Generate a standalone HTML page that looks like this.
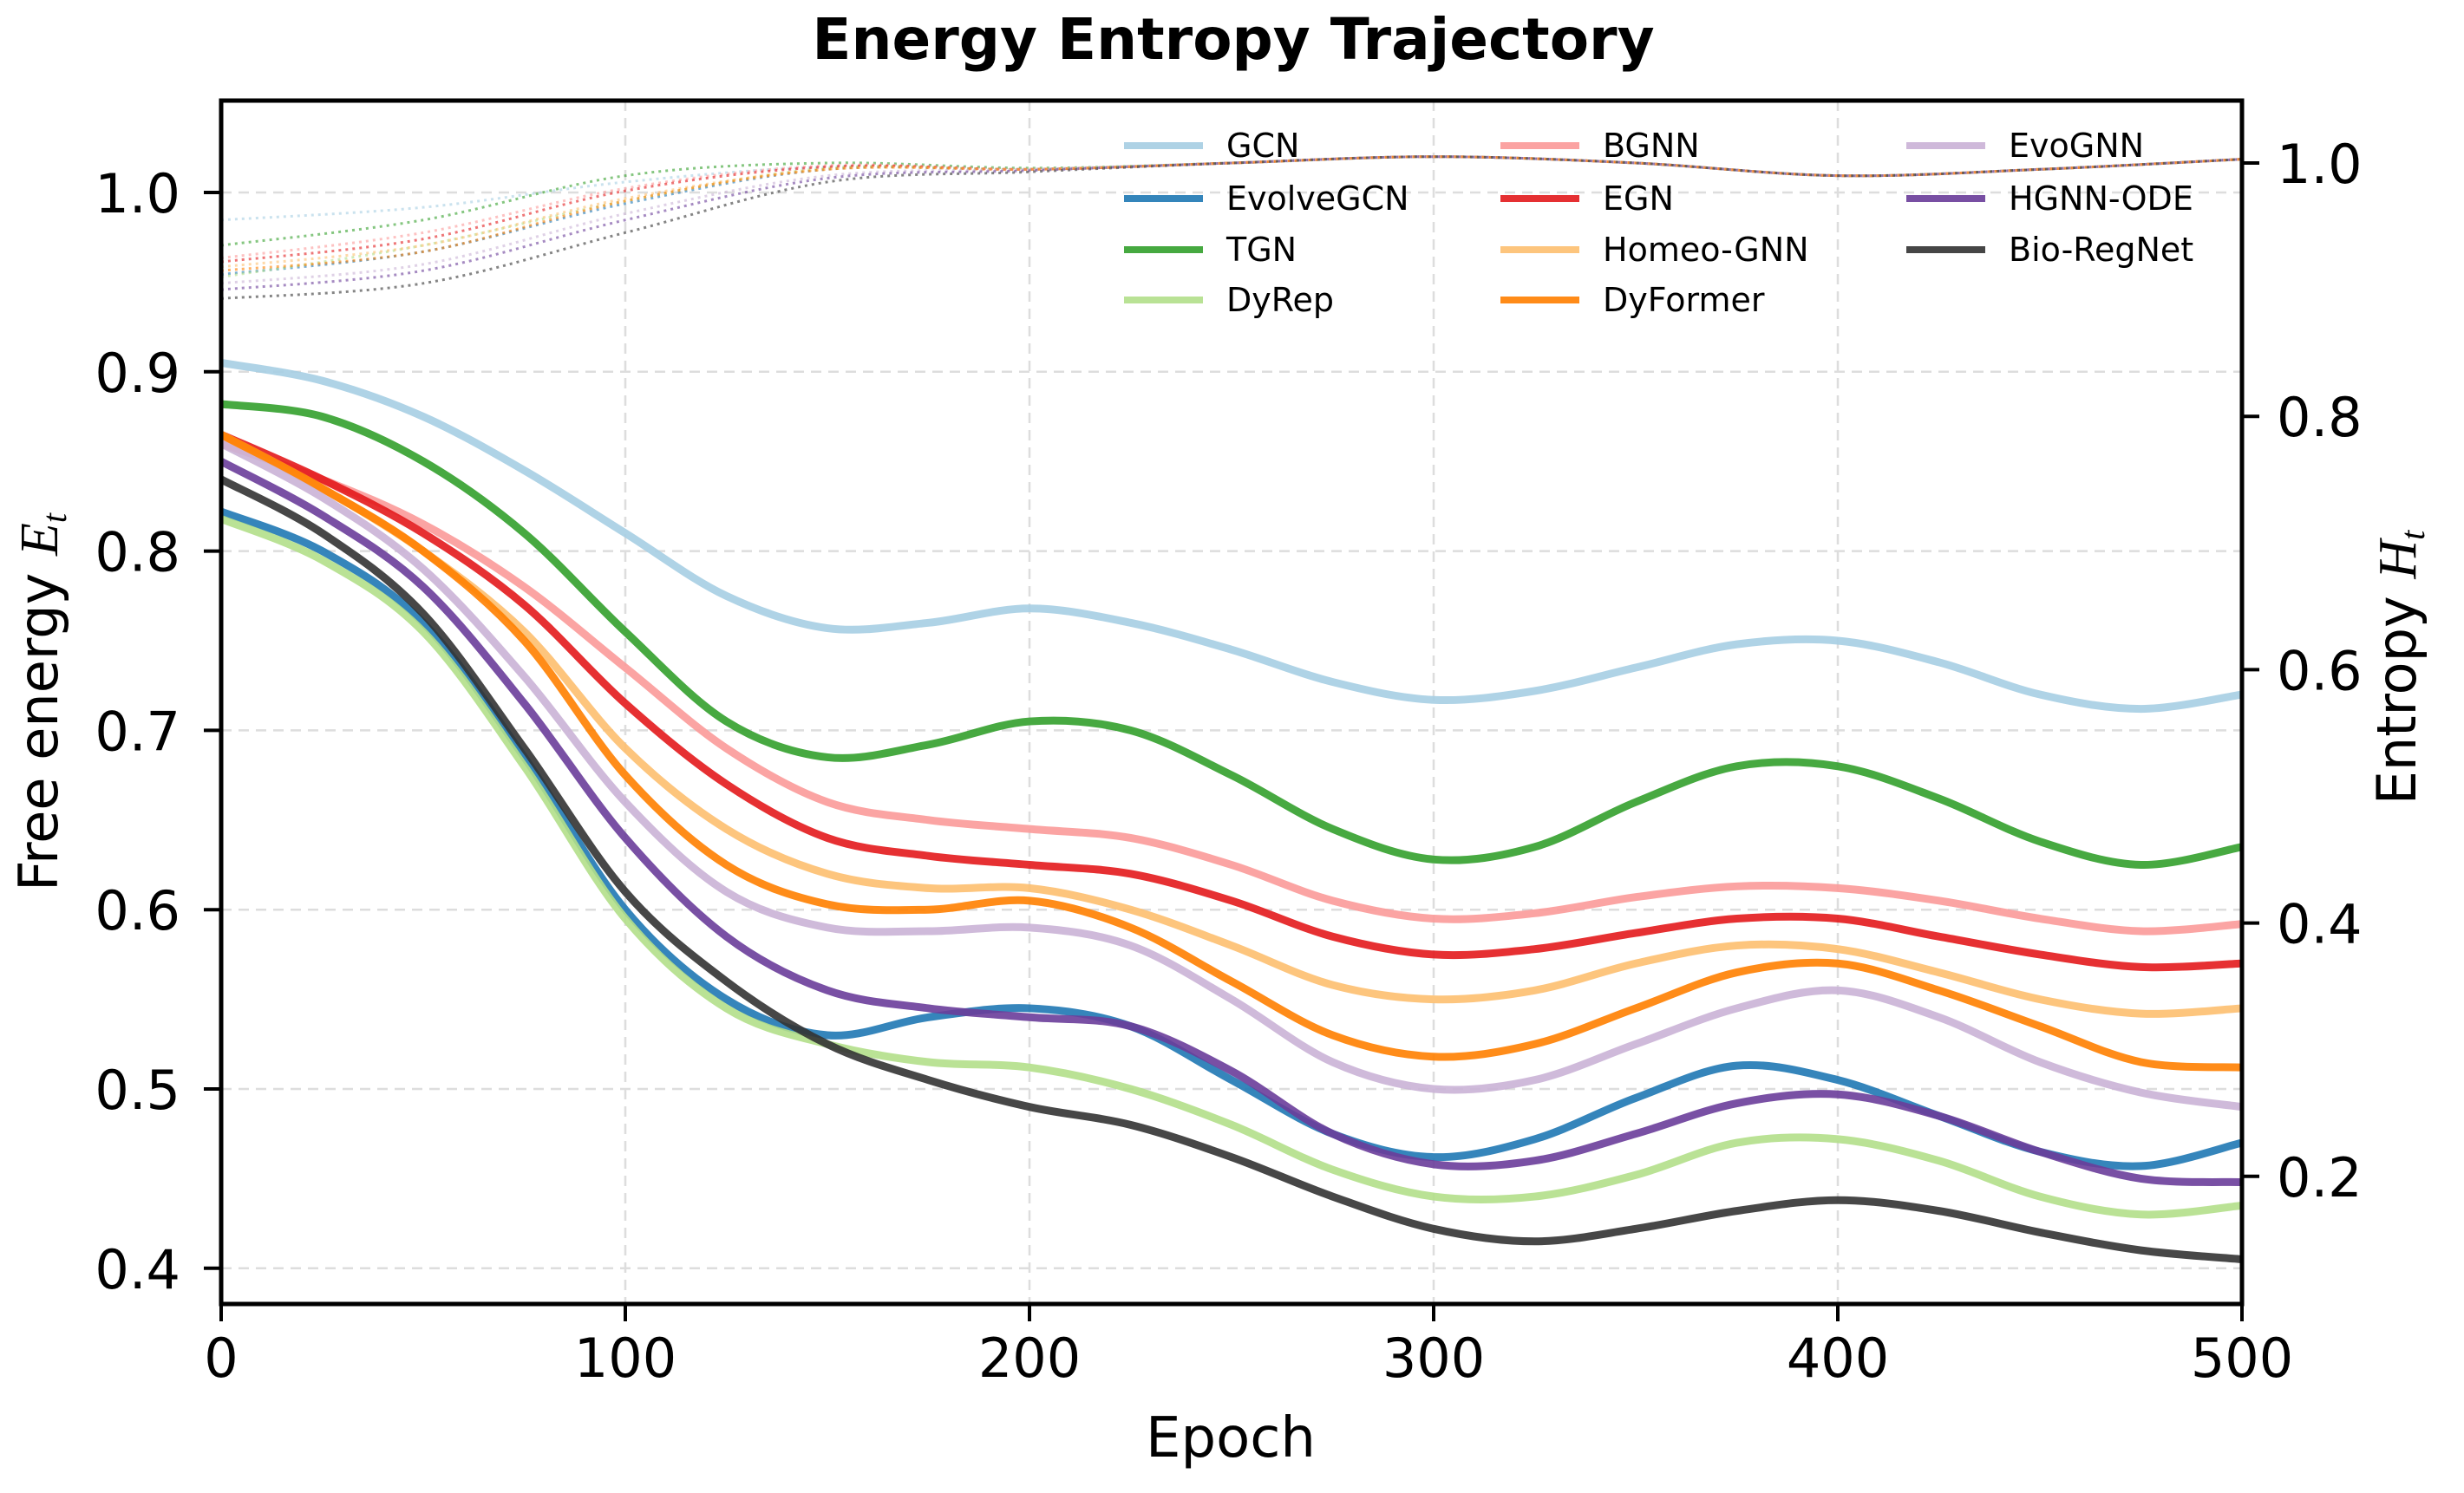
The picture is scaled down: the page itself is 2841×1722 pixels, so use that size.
<!DOCTYPE html>
<html><head><meta charset="utf-8"><style>
body{margin:0;background:#fff}
svg{display:block;font-family:"DejaVu Sans","Liberation Sans",sans-serif}
</style></head><body>
<svg id="chart" width="2841" height="1722" viewBox="0 0 2841 1722">
<text x="1422" y="68" text-anchor="middle" font-size="66" font-weight="bold">Energy Entropy Trajectory</text>
<g id="grid"></g><g id="ent"></g><g id="lines"></g>
<rect x="255" y="116" width="2330" height="1388" fill="none" stroke="#000" stroke-width="5"/>
<g id="axes"></g>
<text x="1419" y="1680" text-anchor="middle" font-size="64">Epoch</text>
<text transform="translate(66,810) rotate(-90)" text-anchor="middle" font-size="62">Free energy <tspan font-style="italic" font-family="Liberation Serif,serif">E<tspan font-size="40" dy="10">t</tspan></tspan></text>
<text transform="translate(2785,770) rotate(-90)" text-anchor="middle" font-size="62">Entropy <tspan font-style="italic" font-family="Liberation Serif,serif">H<tspan font-size="40" dy="10">t</tspan></tspan></text>
<g id="legend"></g>
</svg>
<script>
const epochs=[0,25,50,75,100,125,150,175,200,225,250,275,300,325,350,375,400,425,450,475,500];
const entEpochs=[0,50,100,150,200,250,300,350,400,450,500];
const names=["GCN","EvolveGCN","TGN","DyRep","BGNN","EGN","Homeo-GNN","DyFormer","EvoGNN","HGNN-ODE","Bio-RegNet"];
const colors=["#a6cee3","#1f78b4","#33a02c","#b2df8a","#fb9a99","#e31a1c","#fdbf6f","#ff7f00","#cab2d6","#6a3d9a","#333333"];
const eGCN=[0.905,0.895,0.875,0.845,0.81,0.775,0.757,0.76,0.768,0.76,0.745,0.727,0.717,0.722,0.735,0.748,0.75,0.738,0.72,0.712,0.72];
const eEvolveGCN=[0.822,0.8,0.76,0.685,0.6,0.55,0.53,0.54,0.545,0.535,0.505,0.475,0.462,0.472,0.495,0.513,0.505,0.485,0.465,0.457,0.47];
const eTGN=[0.882,0.875,0.85,0.81,0.755,0.705,0.685,0.692,0.705,0.7,0.675,0.645,0.628,0.635,0.66,0.68,0.68,0.662,0.638,0.625,0.635];
const eDyRep=[0.818,0.795,0.755,0.68,0.595,0.545,0.525,0.515,0.512,0.5,0.48,0.455,0.44,0.44,0.452,0.47,0.472,0.46,0.44,0.43,0.435];
const eBGNN=[0.86,0.84,0.815,0.78,0.735,0.69,0.66,0.65,0.645,0.64,0.625,0.605,0.595,0.598,0.607,0.613,0.612,0.605,0.595,0.588,0.592];
const eEGN=[0.865,0.84,0.81,0.77,0.715,0.67,0.64,0.63,0.625,0.62,0.605,0.585,0.575,0.578,0.587,0.595,0.595,0.585,0.575,0.568,0.57];
const eHomeo=[0.865,0.835,0.8,0.755,0.69,0.645,0.62,0.612,0.612,0.6,0.58,0.558,0.55,0.555,0.57,0.58,0.578,0.565,0.55,0.542,0.545];
const eDyFormer=[0.865,0.835,0.8,0.75,0.675,0.625,0.603,0.6,0.605,0.59,0.56,0.53,0.518,0.525,0.545,0.565,0.57,0.555,0.535,0.515,0.512];
const eEvoGNN=[0.86,0.83,0.79,0.73,0.66,0.61,0.59,0.588,0.59,0.58,0.55,0.515,0.5,0.505,0.525,0.545,0.555,0.54,0.515,0.498,0.49];
const eHGNN=[0.85,0.82,0.78,0.715,0.64,0.585,0.555,0.545,0.54,0.535,0.51,0.475,0.458,0.46,0.475,0.492,0.497,0.485,0.465,0.45,0.448];
const eBio=[0.84,0.81,0.765,0.69,0.61,0.56,0.525,0.505,0.49,0.48,0.462,0.44,0.422,0.415,0.422,0.432,0.438,0.432,0.42,0.41,0.405];
const hGCN=[0.955,0.965,0.985,0.997,0.995,1.0,1.005,1.0,0.99,0.995,1.003];
const hEvolveGCN=[0.912,0.93,0.968,0.995,0.995,1.0,1.005,1.0,0.99,0.995,1.003];
const hTGN=[0.935,0.955,0.99,1.0,0.996,1.0,1.005,1.0,0.99,0.995,1.003];
const hDyRep=[0.91,0.935,0.97,0.996,0.995,1.0,1.005,1.0,0.99,0.995,1.003];
const hBGNN=[0.925,0.945,0.98,0.998,0.995,1.0,1.005,1.0,0.99,0.995,1.003];
const hEGN=[0.922,0.94,0.978,0.997,0.995,1.0,1.005,1.0,0.99,0.995,1.003];
const hHomeo=[0.918,0.935,0.972,0.995,0.995,1.0,1.005,1.0,0.99,0.995,1.003];
const hDyFormer=[0.915,0.93,0.97,0.995,0.995,1.0,1.005,1.0,0.99,0.995,1.003];
const hEvoGNN=[0.905,0.92,0.96,0.99,0.995,1.0,1.005,1.0,0.99,0.995,1.003];
const hHGNN=[0.9,0.915,0.955,0.988,0.994,1.0,1.005,1.0,0.99,0.995,1.003];
const hBio=[0.893,0.905,0.945,0.985,0.993,1.0,1.005,1.0,0.99,0.995,1.003];
const xTicks=[0,100,200,300,400,500];
const yTicks=[0.4,0.5,0.6,0.7,0.8,0.9,1.0];
const y2Ticks=[0.2,0.4,0.6,0.8,1.0];

const energy=[eGCN,eEvolveGCN,eTGN,eDyRep,eBGNN,eEGN,eHomeo,eDyFormer,eEvoGNN,eHGNN,eBio];
const entropy=[hGCN,hEvolveGCN,hTGN,hDyRep,hBGNN,hEGN,hHomeo,hDyFormer,hEvoGNN,hHGNN,hBio];
const L=255,R=2585,T=116,B=1504;
const X=v=>L+v/500*(R-L);
const Y=v=>222+(1.0-v)*2068;
const Y2=v=>188+(1.0-v)*1461;
const NS="http://www.w3.org/2000/svg";
function mk(tag,attrs,parent){const e=document.createElementNS(NS,tag);for(const k in attrs)e.setAttribute(k,attrs[k]);parent.appendChild(e);return e;}
function smooth(pts){let d=`M${pts[0][0]},${pts[0][1]}`;for(let i=0;i<pts.length-1;i++){const p0=pts[i-1]||pts[i],p1=pts[i],p2=pts[i+1],p3=pts[i+2]||p2;
d+=` C${p1[0]+(p2[0]-p0[0])/6},${p1[1]+(p2[1]-p0[1])/6} ${p2[0]-(p3[0]-p1[0])/6},${p2[1]-(p3[1]-p1[1])/6} ${p2[0]},${p2[1]}`;}return d;}
const grid=document.getElementById('grid'),axes=document.getElementById('axes');
xTicks.forEach(t=>{
 const g=mk('line',{x1:X(t),x2:X(t),y1:T,y2:B,stroke:'#ddd','stroke-width':2.5,'stroke-dasharray':'12 8'},grid);
 
 const tk=mk('line',{x1:X(t),x2:X(t),y1:B,y2:B+20,stroke:'#000','stroke-width':4},axes);
 
 const tx=mk('text',{x:X(t),y:1588,'text-anchor':'middle','font-size':62},axes);tx.textContent=t;
 
});
yTicks.forEach(t=>{
 const g=mk('line',{x1:L,x2:R,y1:Y(t),y2:Y(t),stroke:'#ddd','stroke-width':2.5,'stroke-dasharray':'12 8'},grid);
 
 const tk=mk('line',{x1:L-20,x2:L,y1:Y(t),y2:Y(t),stroke:'#000','stroke-width':4},axes);
 
 const tx=mk('text',{x:208,y:Y(t)+23,'text-anchor':'end','font-size':62},axes);tx.textContent=t.toFixed(1);
 
});
y2Ticks.forEach(t=>{
 const tk=mk('line',{x1:R,x2:R+20,y1:Y2(t),y2:Y2(t),stroke:'#000','stroke-width':4},axes);
 
 const tx=mk('text',{x:2625,y:Y2(t)+23,'text-anchor':'start','font-size':62},axes);tx.textContent=t.toFixed(1);
 
});
const ent=document.getElementById('ent'),lines=document.getElementById('lines'),leg=document.getElementById('legend');
entropy.forEach((s,i)=>{
 const p=mk('path',{d:smooth(s.map((v,j)=>[X(entEpochs[j]),Y2(v)])),fill:'none',stroke:colors[i],'stroke-width':3,'stroke-dasharray':'3 5',opacity:0.6},ent);
 
});
energy.forEach((s,i)=>{
 const p=mk('path',{d:smooth(s.map((v,j)=>[X(epochs[j]),Y(v)])),fill:'none',stroke:colors[i],'stroke-width':9,opacity:0.9,'stroke-linejoin':'round'},lines);
 
});
const colX=[1296,1730,2198],rowY=[168,229,288,346];
names.forEach((n,i)=>{
 const c=Math.floor(i/4),r=i%4;
 const g=mk('g',{},leg);
 
 mk('line',{x1:colX[c],x2:colX[c]+91,y1:rowY[r],y2:rowY[r],stroke:colors[i],'stroke-width':8,opacity:0.9},g);
 const t=mk('text',{x:colX[c]+118,y:rowY[r]+13,'font-size':38},g);t.textContent=n;
});
</script>
</body></html>
